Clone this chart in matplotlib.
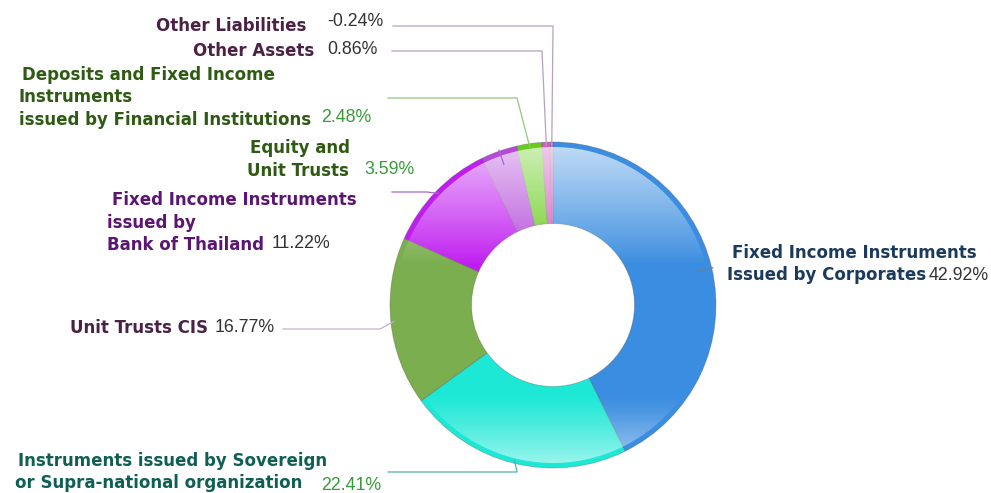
import numpy as np
import matplotlib.pyplot as plt
from matplotlib.patches import Wedge

names = ['Fixed Income Instruments\nIssued by Corporates',
         'Instruments issued by Sovereign\nor Supra-national organization',
         'Unit Trusts CIS',
         'Fixed Income Instruments\nissued by\nBank of Thailand',
         'Equity and\nUnit Trusts',
         'Deposits and Fixed Income\nInstruments\nissued by Financial Institutions',
         'Other Assets',
         'Other Liabilities']
shares = [42.92, 22.41, 16.77, 11.22, 3.59, 2.48, 0.86, -0.24]
colors = ['#3a8de0', '#1de8d6', '#7aae4e', '#c01ef0', '#b44ada', '#68cc1c', '#d05cc0', '#d070c8']
name_colors = ['#1b3a5c', '#0f5f55', '#4b2145', '#5a1670', '#2f5a14', '#2f5a14', '#4b2145', '#4b2145']
pct_colors = ['#333333', '#3a9a3a', '#333333', '#333333', '#3a9a3a', '#3a9a3a', '#333333', '#333333']
line_colors = ['#6080a0', '#50b0b0', '#c8b0d0', '#a868c8', '#a868c8', '#90c878', '#b8a0c0', '#b8a0c0']

W, H = 991, 493
cx, cy = 553, H - 305
R, r_in = 163, 81.5

fig = plt.figure(figsize=(W / 100, H / 100), dpi=100)
ax = fig.add_axes([0, 0, 1, 1])

sizes = np.abs(shares)
wedges, _ = ax.pie(sizes, colors=colors, radius=R, center=(cx, cy), startangle=90,
                   counterclock=False,
                   wedgeprops=dict(width=R - r_in, edgecolor=(0.3, 0.3, 0.3, 0.35), linewidth=0.6))

# glossy highlight, leaving a saturated rim on the outside
ring = Wedge((cx, cy), R - 5, 0, 360, width=R - 5 - r_in, transform=ax.transData)
yy = np.linspace(1, -1, 400)
alpha = np.zeros_like(yy)
top = yy > 0.25
alpha[top] = 0.7 * ((yy[top] - 0.25) / 0.75) ** 0.9
bot = yy < -0.55
alpha[bot] = 0.6 * ((-0.55 - yy[bot]) / 0.45) ** 1.2
grad = np.ones((400, 2, 4))
grad[:, :, 3] = alpha[:, None]
im = ax.imshow(grad, extent=(cx - R, cx + R, cy - R, cy + R), aspect='auto',
               interpolation='bilinear', zorder=3)
im.set_clip_path(ring)

# label layout: name anchor (x, y, ha), percent anchor (x, y), leader start/level/elbow
label_pos = [
    ((727, 253, 'left'), (929, 276), None),
    ((15, 461, 'left'), (321, 485), (388, 472, 517)),
    ((208, 328, 'right'), (215, 328), (283, 329, 380)),
    ((107, 200, 'left'), (272, 243), (392, 192, 427)),
    ((247, 148, 'left'), (364, 169), None),
    ((19, 75, 'left'), (321, 118), (388, 98, 517)),
    ((314, 51, 'right'), (327, 50), (392, 51, 542)),
    ((306, 26, 'right'), (327, 22), (393, 26, 553)),
]

cum = np.cumsum(sizes) - sizes / 2
mid_deg = 360 * cum / sizes.sum()
line_h = 22.5
fs = 12

for i, name in enumerate(names):
    (nx, ny, ha), (px, py), lead = label_pos[i]
    lines = name.split('\n')
    for k, ln in enumerate(lines):
        x = nx
        if k == 0 and len(lines) > 1 and ha == 'left':
            x = nx + (5 if i in (0, 3) else 3)
        ax.text(x, H - (ny + k * line_h), ln, ha=ha, va='center', fontsize=fs,
                fontweight='bold', color=name_colors[i], family='DejaVu Sans', zorder=5)
    ax.text(px, H - py, f'{shares[i]:.2f}%', ha='left', va='center', fontsize=fs + 0.8,
            color=pct_colors[i], family='Liberation Sans', zorder=5)

    a = np.deg2rad(mid_deg[i])
    ex, ey = cx + (R - 3) * np.sin(a), cy + (R - 3) * np.cos(a)
    if lead is None:
        tx, ty = cx + (R - 14) * np.sin(a), cy + (R - 14) * np.cos(a)
        ax.plot([tx, ex + 4 * np.sin(a)], [ty, ey + 4 * np.cos(a)], color=line_colors[i],
                lw=0.9, zorder=4)
    else:
        x0, y0, xe = lead
        ax.plot([x0, xe, ex], [H - y0, H - y0, ey], color=line_colors[i], lw=0.9, zorder=4)

ax.set_xlim(0, W)
ax.set_ylim(0, H)
ax.set_aspect('equal')
ax.axis('off')

plt.savefig('out.png', dpi=100)
